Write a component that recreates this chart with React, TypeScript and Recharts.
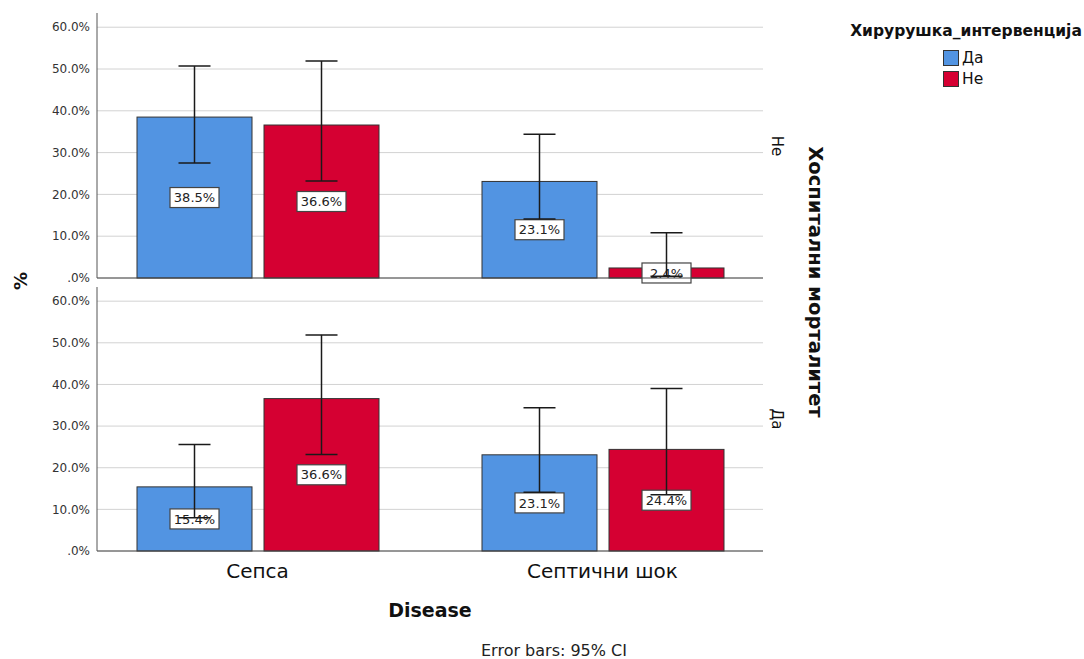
import React from 'react';
import {
  BarChart,
  Bar,
  XAxis,
  YAxis,
  CartesianGrid,
  ErrorBar,
  Legend,
} from 'recharts';

const categories = ['Сепса', 'Септични шок'];
const yTicks = [0, 10, 20, 30, 40, 50, 60];

// Хоспитални морталитет = Не (top panel)
const neDa = [38.5, 23.1];
const neDaLow = [27.5, 14.1];
const neDaHigh = [50.7, 34.4];
const neNe = [36.6, 2.4];
const neNeLow = [23.2, 0.4];
const neNeHigh = [51.9, 10.8];

// Хоспитални морталитет = Да (bottom panel)
const daDa = [15.4, 23.1];
const daDaLow = [8.0, 14.1];
const daDaHigh = [25.6, 34.4];
const daNe = [36.6, 24.4];
const daNeLow = [23.2, 13.5];
const daNeHigh = [51.9, 39.0];

const FONT = '"DejaVu Sans", sans-serif';
const BLUE = '#5294e2';
const RED = '#d50032';

const buildRows = (
  da: number[], daLo: number[], daHi: number[],
  ne: number[], neLo: number[], neHi: number[]
) =>
  categories.map((name, i) => ({
    name,
    da: da[i],
    ne: ne[i],
    daErr: [da[i] - daLo[i], daHi[i] - da[i]],
    neErr: [ne[i] - neLo[i], neHi[i] - ne[i]],
  }));

const topRows = buildRows(neDa, neDaLow, neDaHigh, neNe, neNeLow, neNeHigh);
const bottomRows = buildRows(daDa, daDaLow, daDaHigh, daNe, daNeLow, daNeHigh);

const pct = (v: number) => (v === 0 ? '.0%' : `${v.toFixed(1)}%`);

// bar rect + white value box in the middle; error bars are drawn later, on top
const barWithBox = (key: string) => (props: any) => {
  const { x, y, width, height, fill, payload } = props;
  const cx = x + width / 2;
  const cy = y + height / 2;
  return (
    <g>
      <rect x={x} y={y} width={width} height={height} fill={fill} stroke="#333" strokeWidth={1} />
      <rect x={cx - 24.5} y={cy - 10} width={49} height={20} fill="#fff" stroke="#444" strokeWidth={1.2} />
      <text x={cx} y={cy + 4.7} textAnchor="middle" fontSize={13} fontFamily={FONT} fill="#222">
        {pct(Number(payload[key]))}
      </text>
    </g>
  );
};

const LegendBox = (props: any) => {
  const { payload = [] } = props;
  const items = payload.filter((p: any) => p.type !== 'none');
  return (
    <div style={{ fontFamily: FONT, color: '#111' }}>
      <div style={{ fontWeight: 'bold', fontSize: 15.5, textAlign: 'center', whiteSpace: 'nowrap' }}>
        Хирурушка_интервенција
      </div>
      <div style={{ marginLeft: 97, marginTop: 7 }}>
        {items.map((p: any) => (
          <div key={p.value} style={{ display: 'flex', alignItems: 'center', height: 21 }}>
            <span
              style={{
                display: 'inline-block',
                width: 14,
                height: 14,
                background: p.color,
                border: '1px solid #333',
                marginRight: 3,
              }}
            />
            <span style={{ fontSize: 15.5 }}>{p.value}</span>
          </div>
        ))}
      </div>
    </div>
  );
};

const Panel = ({ rows, top, height, margin, bottomAxis, legend }: any) => (
  <div style={{ position: 'absolute', left: 0, top }}>
    <BarChart width={1084} height={height} data={rows} margin={margin} barSize={115} barGap={12}>
      <CartesianGrid vertical={false} stroke="#d2d2d2" horizontalValues={yTicks} syncWithTicks />
      <XAxis
        dataKey="name"
        padding={{ left: -12, right: -12 }}
        axisLine={{ stroke: '#444' }}
        tickLine={false}
        tickSize={0}
        tick={bottomAxis ? { fontSize: 20, fontFamily: FONT, fill: '#111' } : false}
        tickMargin={13}
        height={bottomAxis ? 40 : 1}
      />
      <XAxis dataKey="name" xAxisId="err" hide padding={{ left: -12, right: -12 }} />
      <YAxis
        width={60}
        domain={[0, 63.4]}
        ticks={yTicks}
        interval={0}
        tickFormatter={pct}
        tickLine={false}
        tickSize={0}
        tickMargin={7}
        axisLine={{ stroke: '#555' }}
        tick={{ fontSize: 12, fontFamily: FONT, fill: '#333' }}
      />
      {legend && (
        <Legend
          layout="horizontal"
          verticalAlign="middle"
          align="center"
          content={<LegendBox />}
          wrapperStyle={{ top: 22, left: 846, width: 240, height: 80 }}
        />
      )}
      <Bar dataKey="da" name="Да" fill={BLUE} stroke="#333" shape={barWithBox('da')} isAnimationActive={false} />
      <Bar dataKey="ne" name="Не" fill={RED} stroke="#333" shape={barWithBox('ne')} isAnimationActive={false} />
      <Bar dataKey="da" xAxisId="err" legendType="none" fill="none" stroke="none" isAnimationActive={false}>
        <ErrorBar dataKey="daErr" width={16} stroke="#1a1a1a" strokeWidth={1.5} direction="y" />
      </Bar>
      <Bar dataKey="ne" xAxisId="err" legendType="none" fill="none" stroke="none" isAnimationActive={false}>
        <ErrorBar dataKey="neErr" width={16} stroke="#1a1a1a" strokeWidth={1.5} direction="y" />
      </Bar>
    </BarChart>
  </div>
);

export default function App() {
  return (
    <div style={{ position: 'absolute', left: 0, top: 0, width: 1084, height: 659, background: '#fff' }}>
      <Panel
        rows={topRows}
        top={0}
        height={285}
        margin={{ top: 13, right: 321, bottom: 6, left: 37 }}
        bottomAxis={false}
        legend
      />
      <Panel
        rows={bottomRows}
        top={280}
        height={330}
        margin={{ top: 7, right: 321, bottom: 19, left: 37 }}
        bottomAxis
        legend={false}
      />
      <svg
        width={1084}
        height={659}
        style={{ position: 'absolute', left: 0, top: 0, pointerEvents: 'none' }}
        fontFamily={FONT}
      >
        <text x={27} y={281} transform="rotate(-90 27 281)" textAnchor="middle" fontSize={18} fontWeight="bold" fill="#111">
          %
        </text>
        <text x={809} y={282} transform="rotate(90 809 282)" textAnchor="middle" fontSize={19.5} fontWeight="bold" fill="#111">
          Хоспитални морталитет
        </text>
        <text x={772} y={146} transform="rotate(90 772 146)" textAnchor="middle" fontSize={15} fill="#111">
          Не
        </text>
        <text x={772} y={419} transform="rotate(90 772 419)" textAnchor="middle" fontSize={15} fill="#111">
          Да
        </text>
        <text x={430} y={617} textAnchor="middle" fontSize={19} fontWeight="bold" fill="#111">
          Disease
        </text>
        <text x={554} y={656} textAnchor="middle" fontSize={16} fill="#222">
          Error bars: 95% CI
        </text>
      </svg>
    </div>
  );
}
